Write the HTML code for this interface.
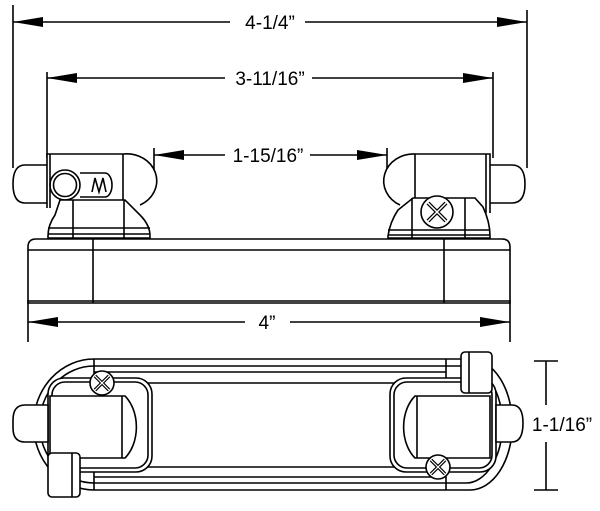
<!DOCTYPE html>
<html><head><style>html,body{margin:0;padding:0;background:#fff}svg{display:block}</style></head><body>
<svg width="600" height="511" viewBox="0 0 600 511" xmlns="http://www.w3.org/2000/svg" fill="none" stroke="#000" stroke-width="1.6" font-family="Liberation Sans, sans-serif">
<!-- dimension lines -->
<line x1="13" y1="5" x2="13" y2="168"/><line x1="527" y1="10" x2="527" y2="168"/>
<line x1="13" y1="22" x2="230" y2="22"/><line x1="305" y1="22" x2="527" y2="22"/>
<polygon points="13,22 43,17 43,27" fill="#000" stroke="none"/><polygon points="527,22 497,17 497,27" fill="#000" stroke="none"/>
<text x="270" y="29" font-size="19" fill="#000" stroke="none" text-anchor="middle">4-1/4”</text>
<line x1="47" y1="72" x2="47" y2="158"/><line x1="493" y1="72" x2="493" y2="158"/>
<line x1="47" y1="78" x2="225" y2="78"/><line x1="312" y1="78" x2="493" y2="78"/>
<polygon points="47,78 77,73 77,83" fill="#000" stroke="none"/><polygon points="493,78 463,73 463,83" fill="#000" stroke="none"/>
<text x="270" y="85" font-size="19" fill="#000" stroke="none" text-anchor="middle">3-11/16”</text>
<line x1="154" y1="148" x2="154" y2="190"/><line x1="387" y1="148" x2="387" y2="190"/>
<line x1="154" y1="155" x2="225" y2="155"/><line x1="310" y1="155" x2="387" y2="155"/>
<polygon points="154,155 184,150 184,160" fill="#000" stroke="none"/><polygon points="387,155 357,150 357,160" fill="#000" stroke="none"/>
<text x="268" y="162" font-size="19" fill="#000" stroke="none" text-anchor="middle">1-15/16”</text>
<line x1="28" y1="300" x2="28" y2="342"/><line x1="510" y1="300" x2="510" y2="342"/>
<line x1="28" y1="322" x2="245" y2="322"/><line x1="290" y1="322" x2="510" y2="322"/>
<polygon points="28,322 58,317 58,327" fill="#000" stroke="none"/><polygon points="510,322 480,317 480,327" fill="#000" stroke="none"/>
<text x="267" y="329" font-size="19" fill="#000" stroke="none" text-anchor="middle">4”</text>
<!-- base -->
<path d="M28,303 V247 Q28,239 36,239 H502 Q510,239 510,247 V303 Z"/>
<line x1="28" y1="250" x2="510" y2="250"/><line x1="28" y1="301" x2="510" y2="301"/>
<line x1="93" y1="239" x2="93" y2="303"/><line x1="444" y1="239" x2="444" y2="303"/>
<!-- left fixture -->
<path d="M47,165 H25 Q13,165 13,184 Q13,203 25,203 H47"/>
<path d="M47,208 V154 H123 A30,27 0 0 1 140,205" fill="#fff"/>
<line x1="50" y1="154" x2="50" y2="208"/><line x1="123" y1="154" x2="123" y2="200"/>
<circle cx="65" cy="185" r="15"/><circle cx="65" cy="185" r="11.5"/>
<path d="M80,173 H105 A7,12 0 0 1 105,197 H80"/><path d="M92,192 L95,178 L99,192 L103,178 L106,192"/>
<path d="M60,200 H125 L140,215 Q150,225 150,236 V238 H48 V236 Q48,225 55,215 Z" fill="#fff"/>
<line x1="48" y1="228" x2="150" y2="228"/><line x1="48" y1="234" x2="150" y2="234"/>
<line x1="73" y1="200" x2="73" y2="238"/><line x1="124" y1="200" x2="124" y2="238"/>
<!-- right fixture -->
<path d="M490,165 H512 Q525,165 525,184 Q525,203 512,203 H490"/>
<path d="M490,213 V154 H415 A30,27 0 0 0 400,205" fill="#fff"/>
<line x1="486" y1="154" x2="486" y2="213"/><line x1="415" y1="154" x2="415" y2="200"/>
<path d="M413,198 H475 L483,207 Q490,222 490,236 V238 H388 V236 Q390,222 398,210 Z" fill="#fff"/>
<line x1="388" y1="230" x2="490" y2="230"/><line x1="388" y1="235" x2="490" y2="235"/>
<line x1="412" y1="198" x2="412" y2="238"/><line x1="465" y1="198" x2="465" y2="238"/>
<circle cx="437" cy="212" r="16" fill="#fff"/>
<path d="M428,203 L446,221 M446,203 L428,221" stroke-width="4"/><path d="M428,203 L446,221 M446,203 L428,221" stroke="#fff" stroke-width="1.5"/>
<!-- bottom view -->
<path d="M94,359 H470 A42,65 0 0 1 470,490 H94 A60,65 0 0 1 94,359 Z"/>
<path d="M94,366 H466 A36,58 0 0 1 466,483 H94 A54,58 0 0 1 94,366 Z"/>
<line x1="94" y1="372" x2="446" y2="372"/><line x1="94" y1="383" x2="446" y2="383"/>
<line x1="94" y1="467" x2="446" y2="467"/><line x1="94" y1="477" x2="446" y2="477"/>
<line x1="94" y1="359" x2="94" y2="490"/><line x1="446" y1="359" x2="446" y2="490"/>
<rect x="48" y="378" width="104" height="94" rx="16" fill="#fff"/>
<rect x="52" y="382" width="96" height="86" rx="13"/>
<path d="M13,420 Q13,405 25,405 H48 V442 H25 Q13,442 13,428 Z" fill="#fff"/>
<path d="M50,396 H125 A27,38 0 0 1 125,458 H50 Z" fill="#fff"/>
<line x1="122" y1="396" x2="122" y2="458"/>
<rect x="48" y="453" width="32" height="44" rx="4" fill="#fff"/><line x1="72" y1="453" x2="72" y2="497"/>
<circle cx="102" cy="383" r="12" fill="#fff"/>
<path d="M95,376 L109,390 M109,376 L95,390" stroke-width="3.5"/><path d="M95,376 L109,390 M109,376 L95,390" stroke="#fff" stroke-width="1.2"/>
<rect x="390" y="378" width="106" height="94" rx="16" fill="#fff"/>
<rect x="394" y="382" width="98" height="86" rx="13"/>
<path d="M496,405 H512 Q523,405 523,423 Q523,442 512,442 H496 Z" fill="#fff"/>
<path d="M490,396 H415 A27,38 0 0 0 415,458 H490 Z" fill="#fff"/>
<line x1="417" y1="396" x2="417" y2="458"/>
<rect x="461" y="352" width="31" height="41" rx="4" fill="#fff"/><line x1="469" y1="352" x2="469" y2="393"/>
<circle cx="438" cy="467" r="12" fill="#fff"/>
<path d="M431,460 L445,474 M445,460 L431,474" stroke-width="3.5"/><path d="M431,460 L445,474 M445,460 L431,474" stroke="#fff" stroke-width="1.2"/>
<!-- height dimension -->
<line x1="546" y1="361" x2="546" y2="405"/><line x1="546" y1="442" x2="546" y2="490"/>
<line x1="534" y1="361" x2="558" y2="361"/><line x1="534" y1="490" x2="558" y2="490"/>
<text x="562" y="431" font-size="19" fill="#000" stroke="none" text-anchor="middle">1-1/16”</text>
</svg>
</body></html>
